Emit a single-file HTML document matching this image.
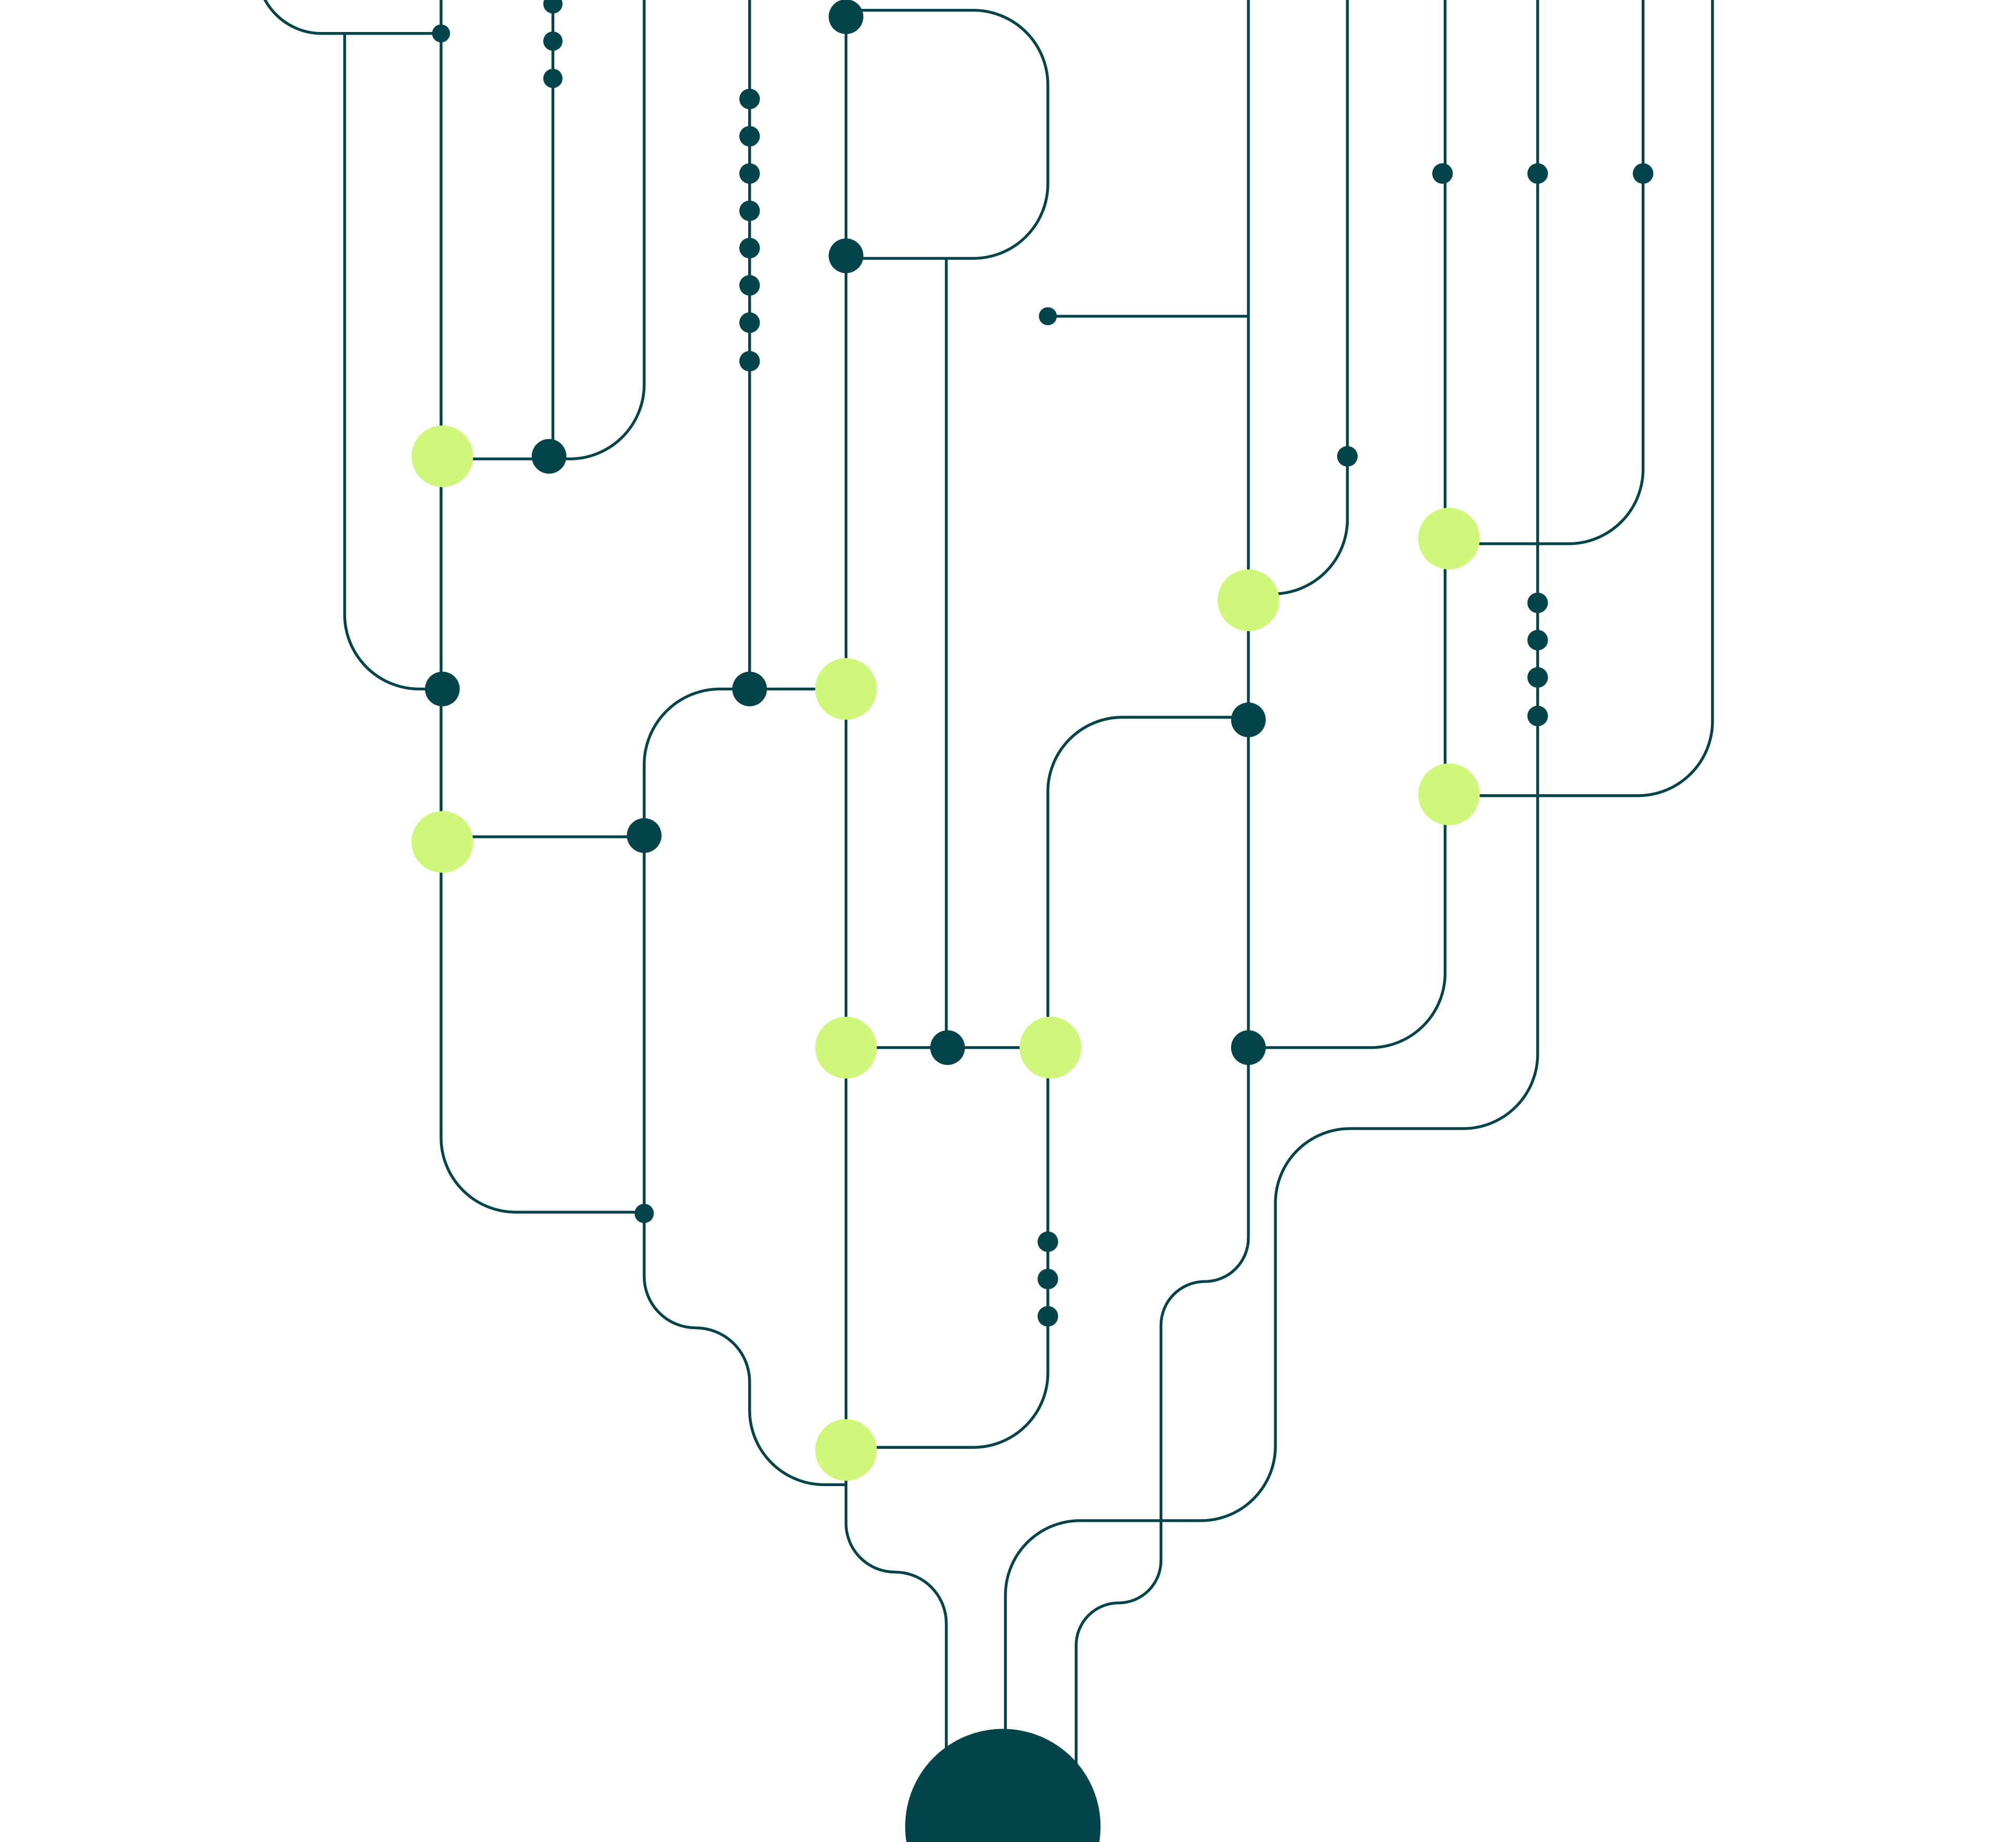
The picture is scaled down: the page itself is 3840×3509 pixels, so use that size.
<!DOCTYPE html>
<html><head><meta charset="utf-8"><style>html,body{margin:0;padding:0;background:#fff}svg{display:block}</style></head>
<body>
<svg width="3840" height="3509" viewBox="0 0 1568 1433" xmlns="http://www.w3.org/2000/svg">
<g fill="none" stroke="#03434a" stroke-width="2.2">
<path d="M200,-24 A50,50 0 0 0 250,26 H343"/>
<path d="M268,26 V478 A58,58 0 0 0 326,536 H343"/>
<path d="M343,0 V885 A58,58 0 0 0 401,943 H501"/>
<path d="M344,357 H443 A58,58 0 0 0 501,299 V0"/>
<path d="M430,0 V355"/>
<path d="M583,0 V536 H658"/>
<path d="M583,536 H560 A59,59 0 0 0 501,595 V993 A40,40 0 0 0 541,1033 A42,42 0 0 1 583,1075 V1097 A58,58 0 0 0 641,1155 H658"/>
<path d="M344,651 H501"/>
<path d="M658,0 V1185 A38,38 0 0 0 696,1223 A40,40 0 0 1 736,1263 V1370"/>
<path d="M658,8 H757 A58,58 0 0 1 815,66 V143 A58,58 0 0 1 757,201 H658"/>
<path d="M736,201 V815"/>
<path d="M658,815 H817"/>
<path d="M815,815 V1068 A58,58 0 0 1 757,1126 H658"/>
<path d="M815,815 V616 A58,58 0 0 1 873,558 H971"/>
<path d="M815,246 H971"/>
<path d="M971,0 V963 A34,34 0 0 1 937,997 A34,34 0 0 0 903,1031 V1214 A33,33 0 0 1 870,1247 A33,33 0 0 0 837,1280 V1375"/>
<path d="M985,462 H990 A58,58 0 0 0 1048,404 V0"/>
<path d="M971,815 H1066 A58,58 0 0 0 1124,757 V0"/>
<path d="M1127,423 H1220 A58,58 0 0 0 1278,365 V0"/>
<path d="M1196,0 V820 A58,58 0 0 1 1138,878 H1050 A58,58 0 0 0 992,936 V1125 A58,58 0 0 1 934,1183 H840 A58,58 0 0 0 782,1241 V1360"/>
<path d="M1332,0 V561 A58,58 0 0 1 1274,619 H1127"/>
</g>
<g fill="#03434a">
<circle cx="343" cy="26" r="7"/>
<circle cx="430" cy="3" r="7.5"/><circle cx="430" cy="32" r="7.5"/><circle cx="430" cy="61" r="7.5"/>
<circle cx="583" cy="77" r="8"/><circle cx="583" cy="106" r="8"/><circle cx="583" cy="135" r="8"/><circle cx="583" cy="164" r="8"/><circle cx="583" cy="193" r="8"/><circle cx="583" cy="222" r="8"/><circle cx="583" cy="251" r="8"/><circle cx="583" cy="281" r="8"/>
<circle cx="427" cy="355" r="13.5"/>
<circle cx="344" cy="536" r="13.5"/>
<circle cx="583" cy="536" r="13.5"/>
<circle cx="501" cy="650" r="13.5"/>
<circle cx="501" cy="944" r="7.5"/>
<circle cx="658" cy="13" r="13.5"/>
<circle cx="658" cy="199" r="13.5"/>
<circle cx="737" cy="815" r="13.5"/>
<circle cx="815" cy="246" r="7"/>
<circle cx="815" cy="966" r="8"/><circle cx="815" cy="995" r="8"/><circle cx="815" cy="1024" r="8"/>
<circle cx="971" cy="560" r="13.5"/>
<circle cx="971" cy="815" r="13.5"/>
<circle cx="1048" cy="355" r="8"/>
<circle cx="1122" cy="135" r="8"/><circle cx="1196" cy="135" r="8"/><circle cx="1278" cy="135" r="8"/>
<circle cx="1196" cy="469" r="8"/><circle cx="1196" cy="498" r="8"/><circle cx="1196" cy="527" r="8"/><circle cx="1196" cy="557" r="8"/>
<circle cx="780" cy="1421" r="76"/>
</g>
<g fill="#cff77c">
<circle cx="344" cy="355" r="24"/>
<circle cx="344" cy="655" r="24"/>
<circle cx="658" cy="536" r="24"/>
<circle cx="658" cy="815" r="24"/>
<circle cx="817" cy="815" r="24"/>
<circle cx="658" cy="1128" r="24"/>
<circle cx="971" cy="467" r="24"/>
<circle cx="1127" cy="419" r="24"/>
<circle cx="1127" cy="618" r="24"/>
</g>
</svg>
</body></html>
